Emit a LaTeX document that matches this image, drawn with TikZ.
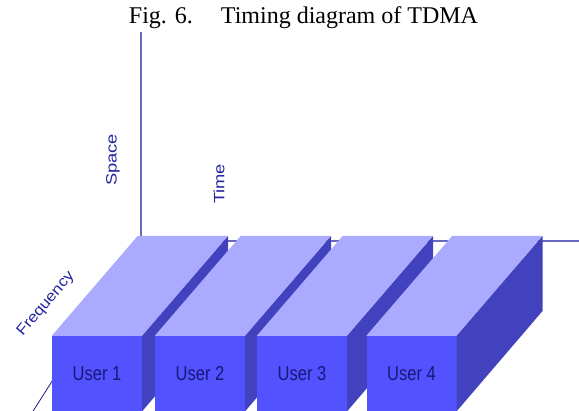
\documentclass[tikz,border=0pt]{standalone}
\usepackage{fontspec}
\setmainfont{Liberation Serif}
\setsansfont{Liberation Sans}
\usepackage{graphicx}
\usepackage{tikz}
\usetikzlibrary{positioning}
\usepackage{xcolor}
\definecolor{tdmafront}{RGB}{82,82,255}
\definecolor{tdmatop}{RGB}{170,170,255}
\definecolor{tdmaside}{RGB}{66,66,190}
\definecolor{tdmaaxis}{RGB}{104,104,190}
\definecolor{tdmafreq}{RGB}{30,30,130}
\definecolor{tdmalabel}{RGB}{36,36,160}
\definecolor{tdmatext}{RGB}{24,24,120}
\tikzstyle{axisline} = [line width=1.4pt, color=tdmaaxis]
\tikzstyle{freqline} = [line width=0.8pt, color=tdmafreq]
\tikzstyle{axislabel} = [inner sep=0pt, text=tdmalabel, font=\fontsize{15}{18}\selectfont\sffamily]
\tikzstyle{userbox} = [rectangle, minimum width=90pt, minimum height=75pt, inner sep=0pt, fill=tdmafront, text=tdmatext, font=\fontsize{16.5}{20}\selectfont\sffamily]
\tikzstyle{topface} = [fill=tdmatop]
\tikzstyle{sideface} = [fill=tdmaside]

\begin{document}
\begin{tikzpicture}[x=1pt, y=-1pt]
\useasboundingbox (0,0) rectangle (579,411);
% Caption
\node[anchor=base, font=\fontsize{24}{28}\selectfont] (caption) at (303.5,24) {Fig. 6.\hspace{28pt}Timing diagram of TDMA};

% Axes
\coordinate (origin) at (141,241);
\coordinate (spaceend) at (141,32);
\coordinate (timeend) at (580,241);
\coordinate (freqend) at (30,416);
\draw[axisline] (origin) -- (spaceend);
\draw[axisline] (origin) -- (timeend);
\draw[freqline] (origin) -- (freqend);

% Axis labels
\node[axislabel, rotate=90] (space) at (113,160) {\scalebox{1.22}[1]{Space}};
\node[axislabel, rotate=90] (time) at (219,184) {\scalebox{1.22}[1]{Time}};
\node[axislabel, rotate=49.5] (frequency) at (46,304) {\scalebox{1.12}[1]{Frequency}};

% Time slots, drawn left to right
\node[userbox] (user1) at (97,373.5) {\scalebox{1}[1.22]{User 1}};
\fill[topface] (user1.north west) -- ++(86,-100) -- ++(90,0) -- (user1.north east) -- cycle;
\fill[sideface] (user1.north east) -- ++(86,-100) -- ++(0,75) -- (user1.south east) -- cycle;

\node[userbox] (user2) at (200,373.5) {\scalebox{1}[1.22]{User 2}};
\fill[topface] (user2.north west) -- ++(86,-100) -- ++(90,0) -- (user2.north east) -- cycle;
\fill[sideface] (user2.north east) -- ++(86,-100) -- ++(0,75) -- (user2.south east) -- cycle;

\node[userbox] (user3) at (302,373.5) {\scalebox{1}[1.22]{User 3}};
\fill[topface] (user3.north west) -- ++(86,-100) -- ++(90,0) -- (user3.north east) -- cycle;
\fill[sideface] (user3.north east) -- ++(86,-100) -- ++(0,75) -- (user3.south east) -- cycle;

\node[userbox] (user4) at (411.5,373.5) {\scalebox{1}[1.22]{User 4}};
\fill[topface] (user4.north west) -- ++(86,-100) -- ++(90,0) -- (user4.north east) -- cycle;
\fill[sideface] (user4.north east) -- ++(86,-100) -- ++(0,75) -- (user4.south east) -- cycle;
\end{tikzpicture}
\end{document}
